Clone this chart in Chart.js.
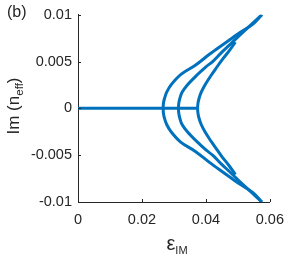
<!DOCTYPE html>
<html><head><meta charset="utf-8">
<script src="https://cdn.jsdelivr.net/npm/chart.js@4/dist/chart.umd.min.js"></script>
<style>
html,body{margin:0;padding:0;background:#fff;}
#wrap{position:relative;width:293px;height:255px;overflow:hidden;}
canvas{position:absolute;left:0;top:0;}
.lbl{position:absolute;font-family:"Liberation Sans",Arial,sans-serif;color:#262626;white-space:nowrap;line-height:1;}
.lbl sub{font-size:68%;vertical-align:baseline;position:relative;top:0.35em;line-height:0;}
</style></head><body>
<div id="wrap">
<canvas id="c" width="293" height="255"></canvas>
<div class="lbl" id="panel" style="left:7px;top:4px;font-size:16px;">(b)</div>
<div class="lbl" id="ylab" style="left:13px;top:106px;font-size:17px;transform:translate(-50%,-50%) rotate(-90deg);">Im (n<sub>eff</sub>)</div>
<div class="lbl" id="xlab" style="left:177px;top:243px;font-size:20px;transform:translate(-50%,-50%);">ε<sub style="font-size:11px">IM</sub></div>
</div>
<script>
// x axis ticks
const xTicks = [0, 0.02, 0.04, 0.06];
const xTickLabels = ['0', '0.02', '0.04', '0.06'];
// y axis ticks
const yTicks = [-0.01, -0.005, 0, 0.005, 0.01];
const yTickLabels = ['-0.01', '-0.005', '0', '0.005', '0.01'];

// flat (real) branch
const flatEps = [0, 0.0374];
const flatIm = [0, 0];

// branch 1 (outer), from top end through turning point to bottom end
const b1Eps = [0.0575, 0.0547, 0.0502, 0.0457, 0.0412, 0.0367, 0.0321, 0.0291, 0.0277, 0.0270, 0.0267, 0.02665,
               0.0267, 0.0270, 0.0277, 0.0291, 0.0321, 0.0367, 0.0412, 0.0457, 0.0502, 0.0547, 0.0575];
const b1Im  = [0.0100, 0.0090, 0.0080, 0.0069, 0.0058, 0.0046, 0.0036, 0.0025, 0.0017, 0.0010, 0.0005, 0,
               -0.0005, -0.0010, -0.0017, -0.0025, -0.0036, -0.0046, -0.0058, -0.0069, -0.0080, -0.0090, -0.0100];

// branch 2 (middle)
const b2Eps = [0.0575, 0.0540, 0.0505, 0.0475, 0.0447, 0.0421, 0.0400, 0.0372, 0.0342, 0.0325, 0.0318, 0.0315, 0.0314,
               0.0315, 0.0318, 0.0325, 0.0342, 0.0372, 0.0400, 0.0421, 0.0447, 0.0475, 0.0505, 0.0540, 0.0575];
const b2Im  = [0.0100, 0.0089, 0.0078, 0.0068, 0.0059, 0.0050, 0.00444, 0.00356, 0.0025, 0.0017, 0.0010, 0.0005, 0,
               -0.0005, -0.0010, -0.0017, -0.0025, -0.00356, -0.00444, -0.0050, -0.0059, -0.0068, -0.0078, -0.0089, -0.0100];

// branch 3 (inner, shorter)
const b3Eps = [0.0492, 0.0472, 0.0451, 0.0430, 0.0417, 0.0397, 0.0385, 0.0378, 0.0375, 0.0374,
               0.0375, 0.0378, 0.0385, 0.0397, 0.0417, 0.0430, 0.0451, 0.0472, 0.0492];
const b3Im  = [0.00707, 0.0061, 0.0052, 0.0042, 0.00356, 0.0025, 0.0017, 0.0010, 0.0005, 0,
               -0.0005, -0.0010, -0.0017, -0.0025, -0.00356, -0.0042, -0.0052, -0.0061, -0.00707];

const BLUE = '#0072BD';
const AXIS = '#262626';
const FONT = '"Liberation Sans", Arial, sans-serif';

function pts(xs, ys) { return xs.map((x, i) => ({x: x, y: ys[i]})); }
function ds(xs, ys) {
  return { data: pts(xs, ys), showLine: true, borderColor: BLUE, backgroundColor: BLUE,
           borderWidth: 3, pointRadius: 0, tension: 0.35, fill: false };
}

const innerTicks = {
  id: 'innerTicks',
  afterDraw(chart) {
    const ctx = chart.ctx, xs = chart.scales.x, ys = chart.scales.y;
    const a = chart.chartArea;
    ctx.save();
    ctx.strokeStyle = AXIS; ctx.lineWidth = 1;
    ctx.beginPath();
    xTicks.forEach(v => { const p = Math.round(xs.getPixelForValue(v)) + 0.5; ctx.moveTo(p, a.bottom); ctx.lineTo(p, a.bottom - 3); });
    yTicks.forEach(v => { const p = Math.round(ys.getPixelForValue(v)) + 0.5; ctx.moveTo(a.left, p); ctx.lineTo(a.left + 3, p); });
    ctx.stroke();
    ctx.restore();
  }
};

new Chart(document.getElementById('c'), {
  type: 'scatter',
  data: { datasets: [ds(flatEps, flatIm), ds(b1Eps, b1Im), ds(b2Eps, b2Im), ds(b3Eps, b3Im)] },
  options: {
    responsive: false, animation: false, devicePixelRatio: 1,
    layout: { padding: { left: 0, right: 15, top: 12, bottom: 0 } },
    plugins: { legend: { display: false }, tooltip: { enabled: false } },
    scales: {
      x: {
        type: 'linear', min: 0, max: 0.06,
        afterBuildTicks: s => { s.ticks = xTicks.map(v => ({ value: v })); },
        afterFit: s => { s.height = 53; },
        grid: { display: false, drawTicks: false },
        border: { display: true, color: AXIS, width: 1 },
        ticks: { color: AXIS, padding: 9, maxRotation: 0, autoSkip: false,
                 font: { family: FONT, size: 14.5 },
                 callback: (v) => { const i = xTicks.findIndex(t => Math.abs(t - v) < 1e-9); return i >= 0 ? xTickLabels[i] : ''; } }
      },
      y: {
        type: 'linear', min: -0.01, max: 0.01,
        afterBuildTicks: s => { s.ticks = yTicks.map(v => ({ value: v })); },
        afterFit: s => { s.width = 78; },
        grid: { display: false, drawTicks: false },
        border: { display: true, color: AXIS, width: 1 },
        ticks: { color: AXIS, padding: 6, autoSkip: false,
                 font: { family: FONT, size: 14.5 },
                 callback: (v) => { const i = yTicks.findIndex(t => Math.abs(t - v) < 1e-9); return i >= 0 ? yTickLabels[i] : ''; } }
      }
    }
  },
  plugins: [innerTicks]
});
</script>
</body></html>
